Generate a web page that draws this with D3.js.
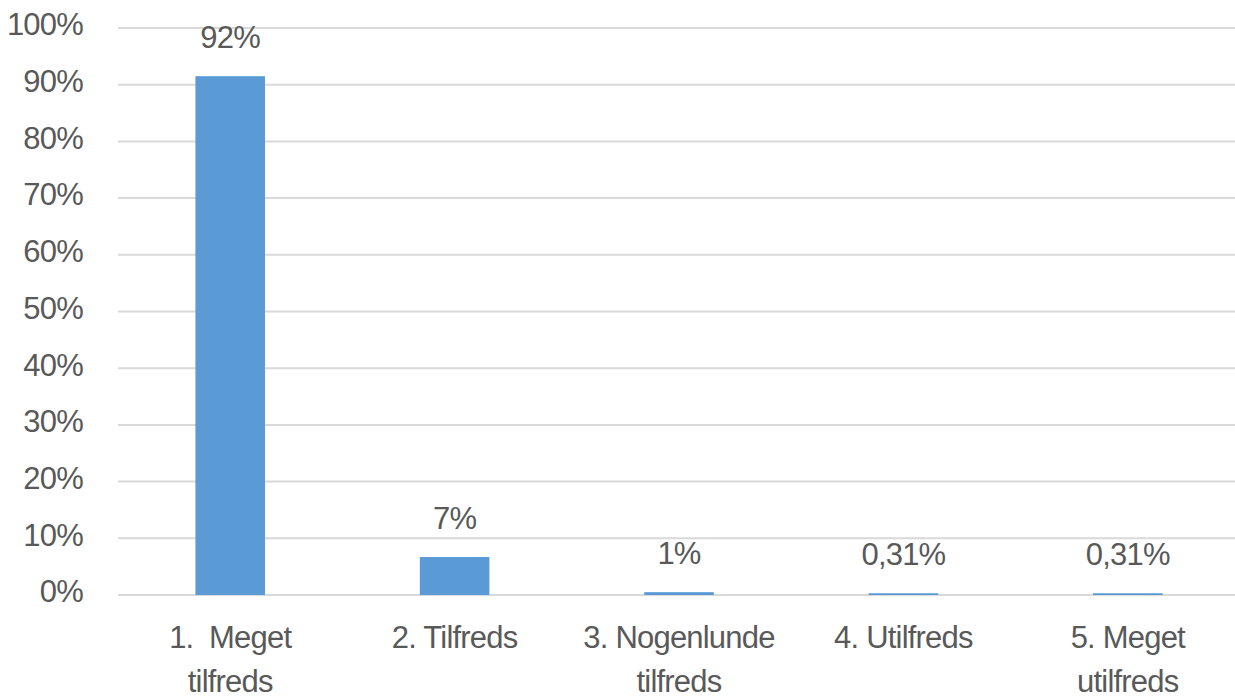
<!DOCTYPE html>
<html>
<head>
<meta charset="utf-8">
<script src="https://cdn.jsdelivr.net/npm/d3@7"></script>
<style>
  html, body { margin: 0; padding: 0; background: #fff; }
  svg { display: block; }
  text { font-family: "Liberation Sans", Arial, sans-serif; fill: #595959; letter-spacing: -0.8px; }
</style>
</head>
<body>
<svg id="chart"></svg>
<script>
// data
var categories = [["1.  Meget", "tilfreds"], ["2. Tilfreds"], ["3. Nogenlunde", "tilfreds"], ["4. Utilfreds"], ["5. Meget", "utilfreds"]];
var values = [0.915, 0.067, 0.005, 0.0031, 0.0031];
var valueLabels = ["92%", "7%", "1%", "0,31%", "0,31%"];
var yTicks = [0, 0.1, 0.2, 0.3, 0.4, 0.5, 0.6, 0.7, 0.8, 0.9, 1.0];

var width = 1235, height = 697;
var margin = {top: 28, right: -5, bottom: 102, left: 118};

var svg = d3.select("#chart")
    .attr("width", width)
    .attr("height", height);

var x = d3.scaleBand()
    .domain(d3.range(categories.length))
    .range([margin.left, width - margin.right])
    .paddingInner(0.69)
    .paddingOuter(0.345);

var y = d3.scaleLinear()
    .domain([0, 1])
    .range([height - margin.bottom, margin.top]);

// gridlines
svg.append("g")
    .attr("class", "grid")
  .selectAll("line")
  .data(yTicks)
  .join("line")
    .attr("x1", margin.left)
    .attr("x2", width)
    .attr("y1", d => y(d))
    .attr("y2", d => y(d))
    .attr("stroke", "#d9d9d9")
    .attr("stroke-width", 2);

// y axis labels
var yAxis = d3.axisLeft(y)
    .tickValues(yTicks)
    .tickFormat(d => Math.round(d * 100) + "%")
    .tickSize(0)
    .tickPadding(35);

svg.append("g")
    .attr("class", "y-axis")
    .attr("transform", `translate(${margin.left},0)`)
    .call(yAxis)
    .call(g => g.select(".domain").remove())
    .call(g => g.attr("font-family", null).attr("font-size", null))
    .call(g => g.selectAll("text")
        .attr("dy", "0.22em")
        .attr("font-size", 31));

// bars
svg.append("g")
    .attr("fill", "#5b9bd5")
  .selectAll("rect")
  .data(values)
  .join("rect")
    .attr("x", (d, i) => x(i))
    .attr("y", d => y(d))
    .attr("width", x.bandwidth())
    .attr("height", d => y(0) - y(d));

// value labels
svg.append("g")
  .selectAll("text")
  .data(values)
  .join("text")
    .attr("x", (d, i) => x(i) + x.bandwidth() / 2)
    .attr("y", d => y(d) - 39)
    .attr("dy", "0.35em")
    .attr("text-anchor", "middle")
    .attr("font-size", 31)
    .text((d, i) => valueLabels[i]);

// category labels
var cat = svg.append("g")
  .selectAll("text")
  .data(categories)
  .join("text")
    .attr("x", (d, i) => x(i) + x.bandwidth() / 2)
    .attr("y", 637)
    .attr("text-anchor", "middle")
    .attr("font-size", 31);

cat.selectAll("tspan")
  .data(d => d)
  .join("tspan")
    .attr("x", function() { return d3.select(this.parentNode).attr("x"); })
    .attr("dy", (d, i) => i === 0 ? "0.35em" : 44)
    .style("white-space", "pre")
    .text(d => d);
</script>
</body>
</html>
